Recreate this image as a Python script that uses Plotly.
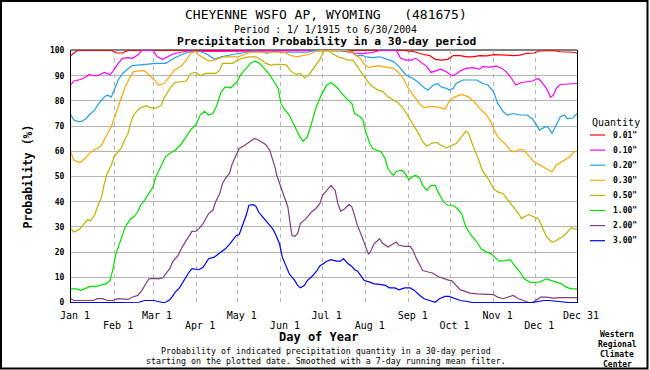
import plotly.graph_objects as go

# ---------------- data ----------------
QUANTITIES = ['0.01"', '0.10"', '0.20"', '0.30"', '0.50"', '1.00"', '2.00"', '3.00"']
COLORS = ["#ff0000", "#ff00ff", "#20a0e0", "#ffa500", "#bcb400", "#00e000", "#804080", "#0000ff"]

ROW1_DAYS = [1, 60, 121, 182, 244, 305, 365]
ROW1_TEXT = ["Jan 1", "Mar 1", "May 1", "Jul 1", "Sep 1", "Nov 1", "Dec 31"]
ROW2_DAYS = [32, 91, 152, 213, 274, 335]
ROW2_TEXT = ["Feb 1", "Apr 1", "Jun 1", "Aug 1", "Oct 1", "Dec 1"]
Y_TICKS = [0, 10, 20, 30, 40, 50, 60, 70, 80, 90, 100]

D_001 = [1, 3, 6, 30, 34, 38, 42, 60, 120, 180,
         240, 248, 254, 259, 263, 268, 272, 276, 281, 286,
         290, 295, 300, 305, 310, 314, 319, 324, 329, 334,
         338, 343, 348, 353, 357, 362, 365]
P_001 = [98, 99, 100, 100, 99, 99, 100, 100, 100, 100,
         100, 99.5, 98.5, 98, 96.5, 96.2, 96.5, 98, 98, 97.5,
         97.5, 98, 97.9, 98.4, 98.4, 98.2, 98, 98.2, 98.9, 99,
         99.8, 99.8, 100, 99.5, 99.5, 99.3, 99]

D_010 = [1, 3, 8, 12, 14, 17, 20, 25, 29, 31,
         35, 38, 42, 45, 49, 52, 60, 63, 67, 70,
         74, 80, 85, 100, 130, 180, 195, 204, 210, 218,
         223, 235, 238, 242, 246, 249, 252, 257, 260, 264,
         267, 271, 275, 277, 281, 285, 290, 295, 297, 302,
         307, 311, 314, 318, 321, 325, 329, 333, 337, 339,
         343, 346, 348, 350, 353, 357, 362, 365]
P_010 = [86.5, 87.9, 88.5, 89.6, 90.5, 90, 90, 91.3, 90.5, 91.6,
         94.9, 96.9, 97.2, 96.9, 98.2, 100, 100, 97.5, 96.5, 97.5,
         98.5, 99.3, 99.8, 99.6, 99.8, 100, 100, 99, 98.8, 99.2,
         100, 100, 97, 96.2, 96.2, 96.9, 95.6, 93.6, 91.3, 92.2,
         92.6, 91.6, 90, 90.3, 91.9, 92.9, 93.2, 92.6, 93.6, 93.4,
         93.8, 92.9, 91.6, 88.9, 86.3, 87.3, 87.6, 87.9, 88.9, 87.9,
         85, 81.4, 82.3, 85, 86.5, 86.6, 86.9, 86.9]

D_020 = [1, 3, 7, 9, 12, 14, 18, 21, 25, 27,
         30, 32, 35, 38, 42, 45, 49, 54, 58, 62,
         66, 69, 72, 75, 80, 85, 90, 94, 99, 104,
         109, 114, 118, 123, 128, 133, 138, 142, 147, 152,
         159, 167, 171, 176, 183, 194, 204, 206, 211, 213,
         218, 223, 228, 233, 237, 242, 247, 252, 255, 258,
         261, 265, 267, 271, 273, 276, 278, 283, 288, 293,
         297, 301, 305, 308, 312, 315, 319, 324, 329, 333,
         336, 338, 342, 344, 347, 350, 353, 356, 358, 362,
         365]
P_020 = [74.4, 72.4, 71.7, 72, 73, 74.4, 76.3, 79, 81.6, 82.3,
         81.6, 84.3, 88.3, 90.9, 92.9, 94, 94.2, 94.5, 94.9, 94.9,
         94.9, 94.9, 95.8, 96.9, 98.2, 99.3, 99.6, 99.6, 98.5, 96.6,
         97.5, 98.2, 98.5, 98.9, 99.3, 99.8, 99.3, 99, 99.6, 99.3,
         99.3, 99.3, 99.3, 100, 100, 99.8, 99.5, 98, 98, 97.5,
         97.2, 97.5, 96.6, 95.6, 93.6, 90.3, 88.9, 86.9, 85.2, 84.3,
         86, 86.9, 85.6, 85, 84.3, 85, 86.9, 88.3, 88.3, 88.3,
         86.9, 86.3, 83.6, 79, 75.7, 74.4, 75, 74.4, 74.4, 72.8,
         70.4, 68.4, 69.7, 69.7, 67.1, 70.4, 73.7, 74.4, 73, 73.2,
         75]

D_030 = [1, 3, 7, 9, 13, 17, 20, 23, 26, 30,
         32, 35, 37, 40, 43, 46, 50, 54, 57, 61,
         64, 68, 72, 75, 80, 84, 87, 91, 93, 97,
         100, 104, 108, 111, 116, 121, 126, 130, 135, 154,
         159, 164, 169, 172, 176, 181, 190, 200, 204, 209,
         212, 215, 218, 222, 225, 229, 233, 236, 240, 243,
         247, 252, 255, 259, 263, 266, 270, 273, 277, 282,
         287, 291, 295, 300, 303, 306, 309, 313, 317, 320,
         324, 327, 331, 334, 338, 343, 347, 350, 354, 357,
         360, 363, 365]
P_030 = [59.5, 56.5, 55.5, 56, 58.4, 60.4, 61.1, 62.4, 65.7, 69.7,
         73, 77.7, 81, 85.6, 88.9, 91.6, 91.9, 91.9, 90.3, 88.3,
         86.3, 86.9, 89.6, 92.2, 93.6, 96.2, 98.9, 99.6, 98.2, 96.9,
         95.8, 96.2, 97.1, 97.5, 97.5, 97.5, 98.4, 99.3, 99.3, 99.3,
         98, 97.5, 98.2, 98.4, 99.5, 100, 100, 100, 98.9, 96.9,
         94.5, 93.2, 93.6, 94, 93.6, 93.2, 92.9, 91.6, 88.9, 85.6,
         82.3, 78.6, 77.3, 77.7, 77.7, 77.4, 76.7, 79.7, 81.6, 82.6,
         81.6, 79.7, 77, 74.4, 71.7, 67.7, 65.1, 63.1, 60.4, 59.8,
         60.8, 60.4, 57.8, 55.8, 54.7, 52.9, 51.8, 54.5, 55.8, 56.5,
         57.8, 60, 59.8]

D_050 = [1, 3, 7, 11, 13, 15, 18, 20, 23, 25,
         27, 30, 32, 35, 37, 39, 42, 44, 46, 49,
         51, 55, 58, 62, 66, 68, 70, 73, 76, 80,
         84, 87, 91, 94, 98, 102, 105, 108, 110, 114,
         117, 121, 124, 129, 134, 138, 141, 145, 148, 152,
         156, 159, 163, 166, 169, 172, 176, 180, 183, 186,
         189, 193, 197, 200, 204, 207, 211, 215, 218, 222,
         225, 229, 233, 236, 240, 243, 247, 251, 254, 257,
         260, 264, 267, 271, 275, 278, 282, 285, 287, 290,
         294, 297, 301, 305, 308, 312, 315, 319, 323, 325,
         327, 330, 333, 337, 339, 343, 347, 350, 354, 357,
         361, 365]
P_050 = [29.3, 28, 29, 31.9, 32.9, 32.4, 34.6, 37.9, 41.9, 47.2,
         51.2, 54.5, 57.8, 60, 61.1, 63.8, 67.1, 71.4, 74.4, 76.3,
         77.3, 78.1, 77.3, 77, 78.3, 81.2, 83, 85.6, 87.3, 87.6,
         87.9, 90.9, 91.3, 90, 90.9, 90.9, 90.9, 92.2, 94.9, 94.9,
         94.9, 96.2, 96.9, 97.5, 97.5, 96.2, 94.9, 94.2, 94.5, 94.5,
         94.2, 91.8, 90.5, 90.9, 89.2, 90.2, 93.6, 96.5, 99.8, 100,
         98.8, 97.5, 96.9, 96.2, 96.2, 93.6, 90.3, 87.3, 85.6, 84.3,
         83.9, 81.6, 80.3, 79.4, 77, 74.4, 71, 67.1, 63.8, 62,
         63.1, 63.5, 62.4, 61.4, 62.4, 63.1, 65.7, 68, 67.1, 62.4,
         57.1, 52.2, 49.2, 45.2, 43.9, 43.2, 40.8, 37.9, 35.3, 33.3,
         34, 34.9, 34.2, 33.3, 31.3, 26, 24, 24.5, 26, 27.3,
         29.7, 28.9]

D_100 = [1, 5, 8, 12, 15, 19, 23, 26, 29, 31,
         33, 36, 38, 40, 44, 46, 49, 51, 54, 57,
         60, 62, 66, 69, 73, 76, 80, 84, 87, 91,
         94, 97, 100, 103, 106, 109, 112, 116, 120, 123,
         127, 130, 133, 136, 140, 144, 147, 150, 152, 154,
         158, 162, 165, 168, 171, 174, 177, 181, 185, 188,
         192, 195, 199, 203, 205, 209, 211, 213, 216, 218,
         221, 224, 227, 229, 231, 233, 235, 239, 241, 244,
         247, 249, 252, 254, 257, 260, 263, 265, 269, 272,
         276, 279, 282, 285, 289, 293, 296, 300, 303, 306,
         309, 313, 317, 320, 324, 327, 331, 334, 338, 343,
         347, 350, 354, 357, 361, 365]
P_100 = [5.4, 5.4, 4.8, 5.8, 6.4, 6.4, 6.8, 7.4, 8.7, 12.7,
         18.7, 23.3, 26.6, 30, 33.3, 33.9, 35.9, 38.6, 40.6, 43.2,
         45.9, 49.8, 54.5, 57.8, 59.5, 60.4, 62.7, 65.7, 68.4, 70.7,
         74.4, 75.9, 74.4, 75, 78.3, 83.6, 85.6, 85.2, 87.3, 90.3,
         92.9, 94.9, 95.8, 95.2, 92.9, 90.3, 87.6, 85, 79, 77,
         74.4, 69.7, 66.4, 64, 65.7, 71, 77, 82.3, 86.3, 87.3,
         85.6, 83.6, 81, 79, 75, 73.7, 72.4, 67.7, 63.1, 61.1,
         60.4, 59.8, 57.1, 53.1, 51.5, 50.5, 52, 52.5, 51.5, 48.8,
         50, 50.5, 49.2, 46.5, 44.5, 46.5, 46.5, 43.9, 39.9, 38.6,
         38.6, 37.2, 35.3, 30, 26.6, 24, 21.3, 20, 19.4, 17.8,
         16.4, 16.6, 17, 14.7, 12.1, 9.4, 8.1, 8, 8.1, 9.4,
         8.7, 8.1, 7.4, 6.1, 5.4, 5.4]

D_200 = [1, 3, 8, 13, 17, 20, 24, 27, 31, 35,
         38, 42, 45, 49, 52, 55, 57, 61, 64, 67,
         69, 72, 74, 78, 81, 84, 86, 88, 91, 93,
         96, 98, 100, 103, 105, 108, 110, 112, 115, 117,
         120, 122, 126, 129, 133, 135, 138, 141, 144, 146,
         148, 149, 152, 154, 157, 159, 160, 162, 164, 166,
         170, 174, 177, 180, 182, 185, 188, 191, 193, 195,
         198, 201, 203, 205, 207, 210, 212, 215, 217, 219,
         223, 225, 229, 231, 235, 237, 241, 245, 247, 249,
         252, 254, 258, 261, 265, 269, 272, 275, 277, 281,
         284, 288, 293, 297, 302, 305, 308, 312, 315, 319,
         323, 326, 330, 333, 337, 339, 343, 348, 353, 357,
         365]
P_200 = [1.5, 0.8, 0.8, 0.8, 0.8, 1.5, 1.5, 0.8, 0.8, 1.5,
         1.5, 1.2, 2.1, 2.8, 4.8, 7.4, 9.4, 9.6, 9.4, 9.8,
         11.4, 13.4, 16, 18.7, 22, 24.7, 26.6, 28.2, 28.3, 29.3,
         31.3, 33.3, 35.3, 36.6, 39.9, 43.2, 47.2, 49.2, 51.2, 55.1,
         58.4, 61.1, 62.4, 63.5, 65.1, 64.7, 63.8, 62.7, 60.4, 57.1,
         53.1, 50.5, 45.9, 42.5, 37.9, 30, 26.6, 26.3, 27.3, 31.3,
         33.3, 35.9, 37.2, 39.2, 42.5, 44.5, 46.5, 44.5, 39.2, 36.3,
         37.2, 39, 38, 34.6, 30.6, 26.6, 23.3, 19.1, 20.7, 23.3,
         25.3, 23.6, 22, 22.7, 24, 22.7, 22.3, 22.3, 20.7, 18,
         14.7, 12.7, 12.1, 11.7, 10.3, 9.4, 9, 8.6, 7.4, 5,
         4.5, 3.7, 3.4, 3.4, 3.4, 3.1, 2.1, 1.5, 2.1, 2.8,
         1.5, 0.8, 0.1, 0, 1.5, 2.1, 2.1, 1.7, 1.9, 1.9,
         1.9]

D_300 = [1, 6, 13, 30, 46, 50, 54, 57, 61, 63,
         67, 69, 72, 74, 76, 79, 81, 84, 86, 88,
         91, 93, 96, 98, 100, 104, 108, 110, 112, 115,
         117, 120, 122, 124, 127, 129, 132, 134, 136, 139,
         141, 144, 146, 148, 151, 153, 156, 158, 162, 164,
         166, 169, 171, 175, 178, 180, 183, 185, 188, 192,
         195, 197, 200, 203, 205, 207, 210, 212, 216, 219,
         223, 227, 230, 234, 237, 241, 245, 248, 252, 255,
         259, 263, 266, 270, 273, 277, 281, 285, 290, 333,
         337, 341, 345, 350, 355, 359, 365]
P_300 = [0, 0.1, 0, 0, 0, 0.1, 0.8, 0.8, 0.8, 0.5,
         0, 0.1, 1.1, 2.4, 4.1, 5.8, 7.7, 10.1, 12.1, 13.4,
         13.2, 13, 14, 15.6, 17.4, 18, 19.6, 20.7, 21.3, 23.1,
         24.7, 26.6, 27, 30, 34.6, 38.6, 38.8, 38.2, 35.9, 33.9,
         32.6, 31, 29.3, 27.3, 23.3, 18, 14, 11.4, 8.7, 6.8,
         5.8, 6.8, 8.7, 10.7, 12.7, 14.5, 15.6, 16.4, 17, 16.4,
         16.4, 17.4, 15.6, 14.3, 13, 12.5, 10.3, 8.7, 8.1, 7.4,
         7.2, 6.8, 5.8, 5.8, 5, 5.8, 5.8, 4.8, 2.8, 1.5,
         0.8, 0.1, 1.5, 2.4, 2.4, 1.5, 0.8, 0.5, 0, 0,
         0.5, 0.8, 0.8, 0.5, 0.1, 0, 0]

SERIES_DAYS = [D_001, D_010, D_020, D_030, D_050, D_100, D_200, D_300]
SERIES_PROB = [P_001, P_010, P_020, P_030, P_050, P_100, P_200, P_300]
for _d, _p in zip(SERIES_DAYS, SERIES_PROB):
    assert len(_d) == len(_p), (len(_d), len(_p))

# ---------------- layout helpers ----------------
FIG_W, FIG_H = 650, 370
M_L, M_R, M_T, M_B = 71, 73, 50, 67
PLOT_W = FIG_W - M_L - M_R
PLOT_H = FIG_H - M_T - M_B
MONO = "DejaVu Sans Mono"
GRID = "#b4b4b4"
LINE_W = 1.2


def fx(px):
    return (px - M_L) / PLOT_W


def fy(py):
    return (FIG_H - M_B - py) / PLOT_H


fig = go.Figure()
n_series = len(QUANTITIES)
for i, (name, color, days, probs) in enumerate(zip(QUANTITIES, COLORS, SERIES_DAYS, SERIES_PROB)):
    # the last series sits on the overlaid axis that carries the second row of month labels
    fig.add_trace(go.Scatter(x=days, y=probs, mode="lines", name=name,
                             line=dict(color=color, width=LINE_W),
                             xaxis="x2" if i == n_series - 1 else "x", yaxis="y",
                             showlegend=False, hoverinfo="skip"))

annotations = []


def ann(text, px, py, size, bold=False, xanchor="center"):
    annotations.append(dict(
        text=text, x=fx(px), y=fy(py), xref="paper", yref="paper",
        xanchor=xanchor, yanchor="middle", showarrow=False,
        font=dict(family=MONO, size=size, color="black",
                  weight="bold" if bold else "normal")))


ann("CHEYENNE WSFO AP, WYOMING\u00a0\u00a0\u00a0(481675)", 326, 15, 13)
ann("Period : 1/ 1/1915 to 6/30/2004", 325.5, 29, 9.8)
ann("Precipitation Probability in a 30-day period", 326, 42, 11.3, bold=True)
ann("Day of Year", 318.5, 337, 12, bold=True)
ann("Probability of indicated precipitation quantity in a 30-day period", 326, 351, 8.3)
ann("starting on the plotted date. Smoothed with a 7-day running mean filter.", 326, 361, 8.3)
for i, line in enumerate(["Western", "Regional", "Climate", "Center"]):
    ann(line, 617, 334 + 10 * i, 8, bold=True)

# legend (drawn by hand to keep the compact spacing of the original)
ann("Quantity", 590, 122, 10, xanchor="left")
shapes = []
for i, (name, color) in enumerate(zip(QUANTITIES, COLORS)):
    py = 135 + 15.1 * i
    shapes.append(dict(type="line", xref="paper", yref="paper",
                       x0=fx(590), x1=fx(605), y0=fy(py), y1=fy(py),
                       line=dict(color=color, width=LINE_W)))
    ann(name, 610.5, py, 8, bold=True, xanchor="left")

# top frame line of the plot and outer border
shapes.append(dict(type="line", xref="paper", yref="paper", x0=0, x1=1, y0=1, y1=1,
                   line=dict(color="black", width=1), layer="between"))
shapes.append(dict(type="rect", xref="paper", yref="paper",
                   x0=fx(1), x1=fx(647.5), y0=fy(368.5), y1=fy(1),
                   line=dict(color="black", width=2)))

axis_common = dict(range=[1, 365], tickmode="array", ticks="",
                   showgrid=True, gridcolor=GRID, gridwidth=1, griddash="4px,4px",
                   zeroline=False, showline=False, fixedrange=True,
                   tickfont=dict(family=MONO, size=10, color="black"),
                   ticklabelshift=4)

fig.update_layout(
    width=FIG_W, height=FIG_H,
    margin=dict(l=M_L, r=M_R, t=M_T, b=M_B, autoexpand=False),
    paper_bgcolor="white", plot_bgcolor="white",
    showlegend=False, hovermode=False,
    xaxis=dict(**axis_common, tickvals=ROW1_DAYS, ticktext=ROW1_TEXT,
               ticklabelstandoff=5),
    xaxis2=dict(**axis_common, tickvals=ROW2_DAYS, ticktext=ROW2_TEXT,
                overlaying="x", anchor="y", side="bottom",
                ticklabelstandoff=15),
    yaxis=dict(range=[-0.2, 100.2], tickmode="array", tickvals=Y_TICKS, ticks="",
               showgrid=True, gridcolor=GRID, gridwidth=1, zeroline=False,
               showline=True, mirror=True, linecolor="black", linewidth=1,
               fixedrange=True, automargin=False, ticklabelstandoff=4,
               tickfont=dict(family=MONO, size=8, color="black", weight="bold"),
               title=dict(text="Probability (%)", standoff=14,
                          font=dict(family=MONO, size=11.5, color="black", weight="bold"))),
    annotations=annotations,
    shapes=shapes,
)

fig.write_html("out.html", config={"displayModeBar": False, "staticPlot": True},
               post_script="document.body.style.margin='0px';")
